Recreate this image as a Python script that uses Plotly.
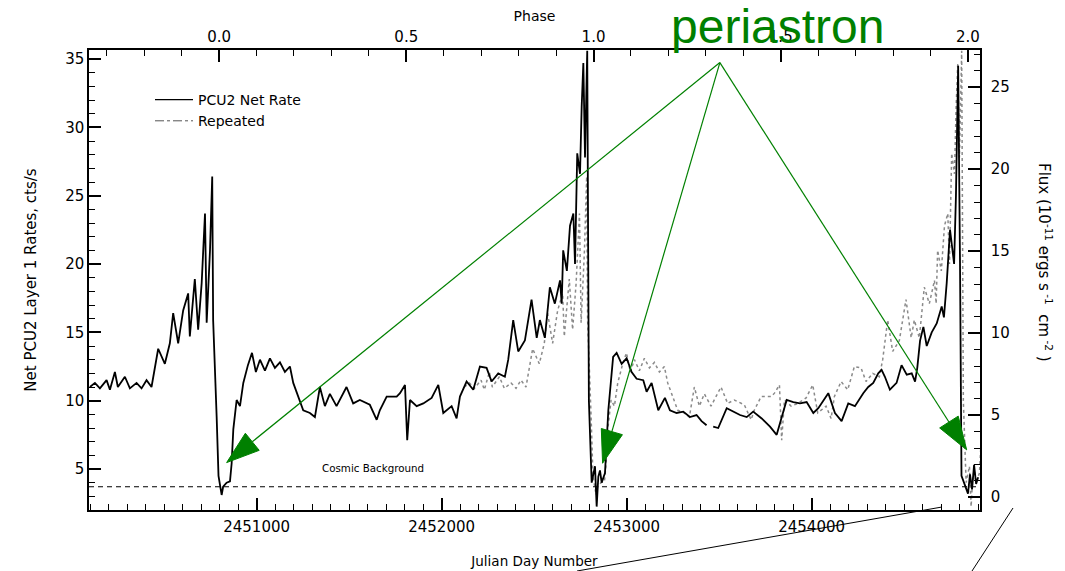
import plotly.graph_objects as go

# The page body adds an 8 px offset; the figure is sized so the plot box lands
# at page pixels x 89..980, y 50..510.
BODY = 8
FIG_W, FIG_H = 1057, 563
PLOT_L, PLOT_R, PLOT_T, PLOT_B = 89, 980, 50, 510
MARGIN = dict(l=PLOT_L - BODY, r=FIG_W + BODY - PLOT_R, t=PLOT_T - BODY,
              b=FIG_H + BODY - PLOT_B, pad=0, autoexpand=False)
PW = PLOT_R - PLOT_L
PH = PLOT_B - PLOT_T

# ---- axes ----
JD_RANGE = [2450094, 2454910]
RATE_RANGE = [2.0, 35.66]
FLUX_RANGE = [-0.78, 27.27]
T0 = 2450797          # periastron epoch (phase 0)
PERIOD = 2024         # days
COSMIC_BG = 3.7

JD_TICKS = [2451000, 2452000, 2453000, 2454000]
JD_TICK_LABELS = ["2451000", "2452000", "2453000", "2454000"]
RATE_TICKS = [5, 10, 15, 20, 25, 30, 35]
FLUX_TICKS = [0, 5, 10, 15, 20, 25]
PHASE_TICKS = [0.0, 0.5, 1.0, 1.5, 2.0]
PHASE_TICK_LABELS = ["0.0", "0.5", "1.0", "1.5", "2.0"]

# ---- data: PCU2 net rate ----
net_jd = [2450099, 2450126, 2450153, 2450189, 2450207, 2450234, 2450250, 2450288, 2450315, 2450351,
          2450378, 2450405, 2450432, 2450468, 2450504, 2450531, 2450549, 2450576, 2450603, 2450630,
          2450639, 2450666, 2450684, 2450703, 2450721, 2450730, 2450748, 2450760, 2450765, 2450775,
          2450784, 2450794, 2450802, 2450811, 2450819, 2450838, 2450856, 2450865, 2450874, 2450892,
          2450910, 2450928, 2450953, 2450975, 2450996, 2451018, 2451045, 2451072, 2451099, 2451126,
          2451153, 2451180, 2451198, 2451252, 2451288, 2451315, 2451342, 2451369, 2451396, 2451432,
          2451486, 2451522, 2451558, 2451612, 2451649, 2451666, 2451703, 2451757, 2451775, 2451802,
          2451814, 2451829, 2451865, 2451901, 2451946, 2451982, 2452009, 2452054, 2452081, 2452099,
          2452135, 2452171, 2452207, 2452243, 2452270, 2452306, 2452342, 2452360, 2452387, 2452414,
          2452450, 2452486, 2452514, 2452531, 2452558, 2452585, 2452612, 2452640, 2452649, 2452657,
          2452677, 2452694, 2452712, 2452721, 2452733, 2452748, 2452757, 2452766, 2452775, 2452787,
          2452796, 2452811, 2452829, 2452838, 2452847, 2452856, 2452865, 2452883, 2452901, 2452915,
          2452927, 2452946, 2452973, 2453000, 2453027, 2453054, 2453090, 2453108, 2453135, 2453171,
          2453207, 2453234, 2453270, 2453306, 2453342, 2453378, 2453405, 2453432, None, 2453468,
          2453495, 2453541, 2453576, 2453613, 2453649, 2453684, 2453730, 2453775, 2453811, 2453829,
          2453865, 2453901, 2453937, 2453973, 2454009, 2454036, 2454063, 2454090, 2454126, 2454162,
          2454198, 2454234, 2454279, 2454306, 2454333, 2454360, 2454378, 2454396, 2454423, 2454459,
          2454486, 2454514, 2454541, 2454559, 2454571, 2454586, 2454604, 2454622, 2454649, 2454676,
          2454703, 2454715, 2454730, 2454748, 2454757, 2454770, 2454780, 2454792, 2454802, 2454810,
          2454829, 2454845, 2454856, 2454867, 2454878, 2454889, 2454900]
net_rate = [11.0, 11.3, 10.9, 11.5, 10.8, 12.1, 11.0, 11.75, 10.9, 11.3,
            10.9, 11.5, 11.0, 13.8, 12.7, 14.2, 16.4, 14.2, 16.6, 17.85,
            14.7, 18.9, 15.2, 18.6, 23.7, 15.7, 21.0, 26.4, 15.9, 11.3,
            8.8, 4.5, 3.7, 3.1, 3.7, 4.0, 4.1, 5.4, 7.9, 10.05,
            9.6, 11.3, 12.6, 13.5, 12.1, 13.0, 12.2, 13.1, 12.4, 12.8,
            12.1, 12.5, 11.3, 9.3, 9.1, 8.8, 11.0, 9.6, 10.5, 9.6,
            11.0, 9.8, 10.05, 9.7, 8.6, 9.3, 10.3, 10.3, 10.55, 11.15,
            7.1, 10.05, 9.6, 9.8, 10.2, 11.15, 9.1, 9.6, 8.7, 10.3,
            11.4, 10.8, 12.5, 12.4, 11.4, 12.0, 11.75, 13.0, 15.9, 13.6,
            14.4, 17.4, 14.6, 15.9, 14.6, 18.3, 17.1, 18.8, 17.1, 21.0,
            19.5, 22.8, 23.7, 20.0, 28.1, 26.6, 31.5, 34.7, 27.8, 35.6,
            10.0, 4.0, 5.2, 2.25, 4.45, 4.9, 4.0, 4.7, 9.3, 11.5,
            13.2, 13.5, 12.7, 13.1, 12.1, 11.6, 11.5, 10.65, 11.3, 9.3,
            10.2, 9.3, 9.1, 9.2, 8.8, 8.95, 8.5, 8.2, None, 8.1,
            8.0, 9.45, 9.2, 8.95, 8.8, 9.2, 8.7, 8.1, 7.5, 8.35,
            10.05, 9.9, 9.8, 9.9, 9.1, 9.45, 10.05, 10.55, 9.1, 8.5,
            9.8, 9.6, 10.55, 11.0, 11.3, 12.0, 12.25, 11.75, 10.8, 11.3,
            12.6, 11.9, 12.0, 11.4, 12.4, 14.4, 15.4, 14.0, 15.0, 15.65,
            16.9, 16.1, 18.6, 22.5, 21.5, 20.0, 25.0, 34.5, 20.0, 4.5,
            3.8, 3.2, 4.6, 3.5, 5.3, 3.9, 4.4]
assert len(net_jd) == len(net_rate)

# "Repeated": the same light curve folded forward by one orbital period
rep_jd = [None if j is None else j + PERIOD for j in net_jd]
rep_rate = list(net_rate)

# ---- annotation anchors (data coords) ----
APEX = (2453504, 34.74)
ARROW_TIPS = [(2450838, 5.47), (2452870, 5.42), (2454838, 6.40)]
COSMIC_LABEL = (2451630, 5.1)

GREEN = "#008000"
FONT = "DejaVu Sans"


def to_px(jd, r):
    px = PLOT_L + (jd - JD_RANGE[0]) / (JD_RANGE[1] - JD_RANGE[0]) * PW
    py = PLOT_T + (RATE_RANGE[1] - r) / (RATE_RANGE[1] - RATE_RANGE[0]) * PH
    return px, py


def to_paper(px, py):
    return (px - PLOT_L) / PW, (PLOT_B - py) / PH


fig = go.Figure()

fig.add_trace(go.Scatter(x=rep_jd, y=rep_rate, mode="lines", name="Repeated",
                         line=dict(color="#8a8a8a", width=1.5, dash="dot"),
                         showlegend=False, connectgaps=False))
fig.add_trace(go.Scatter(x=net_jd, y=net_rate, mode="lines", name="PCU2 Net Rate",
                         line=dict(color="black", width=1.8),
                         showlegend=False, connectgaps=False))
# legend keys
fig.add_trace(go.Scatter(x=[None], y=[None], mode="lines", name="PCU2 Net Rate",
                         line=dict(color="black", width=1.2)))
fig.add_trace(go.Scatter(x=[None], y=[None], mode="lines", name="Repeated",
                         line=dict(color="#555555", width=1, dash="dashdot"),
                         xaxis="x2", yaxis="y2"))

shapes = []
# cosmic background line
shapes.append(dict(type="line", xref="paper", yref="y", x0=0, x1=1, y0=COSMIC_BG, y1=COSMIC_BG,
                   line=dict(color="black", width=1.2, dash="5px,4px")))

# green arrows
ax, ay = to_px(*APEX)
L_HEAD, W_HEAD = 33, 22
for tip in ARROW_TIPS:
    tx, ty = to_px(*tip)
    dx, dy = tx - ax, ty - ay
    n = (dx * dx + dy * dy) ** 0.5
    ux, uy = dx / n, dy / n
    mx, my = tx - L_HEAD * ux, ty - L_HEAD * uy
    nx, ny = -uy, ux
    c1 = (mx + W_HEAD / 2 * nx, my + W_HEAD / 2 * ny)
    c2 = (mx - W_HEAD / 2 * nx, my - W_HEAD / 2 * ny)
    p0 = to_paper(ax, ay)
    pm = to_paper(mx, my)
    shapes.append(dict(type="line", xref="paper", yref="paper", x0=p0[0], y0=p0[1], x1=pm[0], y1=pm[1],
                       line=dict(color=GREEN, width=1.2)))
    pts = [to_paper(tx, ty), to_paper(*c1), to_paper(*c2)]
    path = "M {:.5f},{:.5f} L {:.5f},{:.5f} L {:.5f},{:.5f} Z".format(*pts[0], *pts[1], *pts[2])
    shapes.append(dict(type="path", xref="paper", yref="paper", path=path,
                       fillcolor=GREEN, line=dict(color=GREEN, width=1)))

# black strokes at lower right (outside the plot), page pixels
for (x0, y0), (x1, y1) in [((577, 571), (942, 507)), ((1013, 508), (972, 571))]:
    a = to_paper(x0, y0)
    b = to_paper(x1, y1)
    shapes.append(dict(type="line", xref="paper", yref="paper", x0=a[0], y0=a[1], x1=b[0], y1=b[1],
                       line=dict(color="black", width=1)))

annotations = [
    dict(text="periastron", xref="paper", yref="paper",
         x=to_paper(777, 27)[0], y=to_paper(777, 27)[1], xanchor="center", yanchor="middle",
         showarrow=False, font=dict(family="Liberation Sans", size=48, color=GREEN)),
    dict(text="Cosmic Background", xref="x", yref="y", x=COSMIC_LABEL[0], y=COSMIC_LABEL[1],
         xanchor="center", yanchor="middle", showarrow=False,
         font=dict(family=FONT, size=10.3, color="black")),
    dict(text="Flux (10<sup>-11</sup> ergs s<sup> -1</sup>  cm<sup> -2</sup> )",
         xref="paper", yref="paper", x=to_paper(1045, 262)[0], y=to_paper(1045, 262)[1],
         xanchor="center", yanchor="middle", textangle=90, showarrow=False,
         font=dict(family=FONT, size=15, color="black")),
]

axis_common = dict(showline=True, linecolor="black", linewidth=1.5, ticks="inside",
                   ticklen=12, tickwidth=1.5, tickcolor="black", showgrid=False, zeroline=False,
                   automargin=False,
                   tickfont=dict(family=FONT, size=15, color="black"))

fig.update_layout(
    width=FIG_W, height=FIG_H, margin=MARGIN,
    paper_bgcolor="white", plot_bgcolor="white",
    xaxis=dict(range=JD_RANGE, tickmode="array", tickvals=JD_TICKS, ticktext=JD_TICK_LABELS,
               minor=dict(dtick=100, tick0=2451000, ticks="inside", ticklen=6, tickwidth=1.2,
                          tickcolor="black"),
               ticklabelstandoff=2,
               title=dict(text="Julian Day Number", font=dict(family=FONT, size=13.5, color="black"),
                          standoff=22),
               **axis_common),
    xaxis2=dict(range=[(JD_RANGE[0] - T0) / PERIOD, (JD_RANGE[1] - T0) / PERIOD],
                overlaying="x", side="top", anchor="y", tickmode="array",
                tickvals=PHASE_TICKS, ticktext=PHASE_TICK_LABELS,
                minor=dict(dtick=0.1, tick0=0, ticks="inside", ticklen=6, tickwidth=1.2,
                           tickcolor="black"),
                title=dict(text="Phase", font=dict(family=FONT, size=14, color="black"), standoff=3),
                **axis_common),
    yaxis=dict(range=RATE_RANGE, tickmode="array", tickvals=RATE_TICKS,
               minor=dict(dtick=1, tick0=0, ticks="inside", ticklen=6, tickwidth=1.2,
                          tickcolor="black"),
               title=dict(text="Net PCU2 Layer 1 Rates, cts/s",
                          font=dict(family=FONT, size=15, color="black"), standoff=25),
               **axis_common),
    yaxis2=dict(range=FLUX_RANGE, overlaying="y", side="right", anchor="x", tickmode="array",
                tickvals=FLUX_TICKS,
                minor=dict(dtick=1, tick0=0, ticks="inside", ticklen=6, tickwidth=1.2,
                           tickcolor="black"),
                ticklabelstandoff=6,
                **axis_common),
    legend=dict(x=to_paper(150, 84)[0], y=to_paper(150, 84)[1], xanchor="left", yanchor="top",
                bgcolor="rgba(0,0,0,0)", font=dict(family=FONT, size=14, color="black"),
                tracegroupgap=0, itemwidth=38),
    shapes=shapes,
    annotations=annotations,
    showlegend=True,
)

fig.write_html("out.html")
